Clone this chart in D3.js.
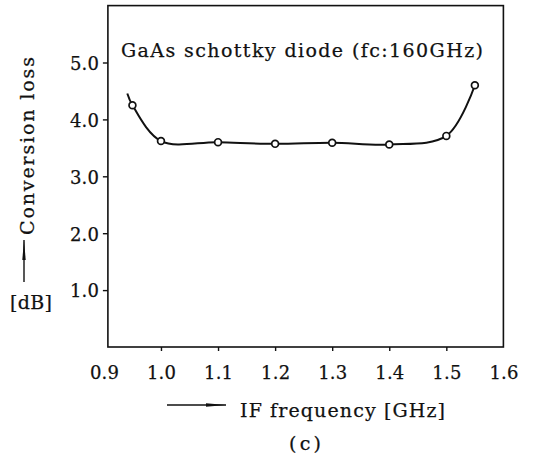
<!DOCTYPE html>
<html>
<head>
<meta charset="utf-8">
<script src="https://cdn.jsdelivr.net/npm/d3@7"></script>
<style>
  html, body { margin: 0; padding: 0; background: #fff; }
  svg { display: block; }
  text { font-family: "DejaVu Serif", "Liberation Serif", serif; fill: #111; stroke: #111; stroke-width: 0.25px; }
</style>
</head>
<body>
<svg id="chart" width="533" height="463"></svg>
<script>
// ---- data ----
const freq = [0.95, 1.0, 1.1, 1.2, 1.3, 1.4, 1.5, 1.55];
const loss = [4.25, 3.62, 3.60, 3.57, 3.59, 3.56, 3.71, 4.60];
const curveStart = [0.941, 4.455];
const xTicks = [0.9, 1.0, 1.1, 1.2, 1.3, 1.4, 1.5, 1.6];
const xTickLabels = ["0.9", "1.0", "1.1", "1.2", "1.3", "1.4", "1.5", "1.6"];
const yTicks = [1, 2, 3, 4, 5];
const yTickLabels = ["1.0", "2.0", "3.0", "4.0", "5.0"];
const xFrame = [0.907, 1.6];
const yFrame = [0, 6];
const titleText = "GaAs schottky diode (fc:160GHz)";
const xLabel = "IF frequency [GHz]";
const yLabel = "Conversion loss";
const yUnit = "[dB]";
const caption = "(c)";

// ---- scales ----
const x = d3.scaleLinear().domain([0.9, 1.6]).range([103.9, 503.4]);
const y = d3.scaleLinear().domain([0, 6]).range([347, 5.6]);

const svg = d3.select("#chart");
const ink = "#111";
const serif = "'DejaVu Serif', 'Liberation Serif', serif";

// frame
svg.append("rect")
  .attr("x", x(xFrame[0])).attr("y", y(yFrame[1]))
  .attr("width", x(xFrame[1]) - x(xFrame[0]))
  .attr("height", y(yFrame[0]) - y(yFrame[1]))
  .attr("fill", "none").attr("stroke", ink).attr("stroke-width", 1.6);

// y axis ticks + labels
const yAxis = d3.axisLeft(y).tickValues(yTicks)
  .tickFormat((d, i) => yTickLabels[i]).tickSize(5).tickPadding(4);
const gy = svg.append("g").attr("transform", `translate(${x(xFrame[0])},0)`).call(yAxis);
gy.select(".domain").remove();
gy.selectAll(".tick line").attr("stroke", ink).attr("stroke-width", 1.4);
gy.selectAll(".tick text")
  .attr("font-size", 18).attr("textLength", 29).attr("lengthAdjust", "spacing")
  .attr("dy", "0.38em").attr("x", -9)
  .style("font-family", serif);

// x axis ticks + labels
const xAxis = d3.axisBottom(x).tickValues(xTicks)
  .tickFormat((d, i) => xTickLabels[i]).tickSize(4).tickPadding(18);
const gx = svg.append("g").attr("transform", `translate(0,${y(0)})`).call(xAxis);
gx.select(".domain").remove();
gx.selectAll(".tick line").attr("stroke", ink).attr("stroke-width", 1.4)
  .attr("y1", 0).attr("y2", 4);
gx.selectAll(".tick text")
  .attr("font-size", 18).attr("textLength", 29).attr("lengthAdjust", "spacing")
  .attr("y", 19).attr("dy", "0.71em")
  .style("font-family", serif);
gx.selectAll(".tick").filter(d => d === 0.9 || d === 1.6).select("line").remove();

// curve
const pts = [curveStart].concat(freq.map((f, i) => [f, loss[i]]));
const line = d3.line().x(d => x(d[0])).y(d => y(d[1])).curve(d3.curveCatmullRom.alpha(0.5));
svg.append("path").attr("d", line(pts))
  .attr("fill", "none").attr("stroke", ink).attr("stroke-width", 2);

// circles
svg.append("g").selectAll("circle").data(freq).join("circle")
  .attr("cx", d => x(d)).attr("cy", (d, i) => y(loss[i]))
  .attr("r", 3.4).attr("fill", "#fff").attr("stroke", ink).attr("stroke-width", 1.7);

// title
svg.append("text").attr("x", 121).attr("y", 57)
  .attr("font-size", 19).attr("textLength", 362).attr("lengthAdjust", "spacing")
  .text(titleText);

// x label with arrow
svg.append("line").attr("x1", 167).attr("x2", 226).attr("y1", 405).attr("y2", 405)
  .attr("stroke", ink).attr("stroke-width", 1.4);
svg.append("path").attr("d", "M206,403.3 L226,405 L206,406.7 Z").attr("fill", ink);
svg.append("text").attr("x", 240).attr("y", 417)
  .attr("font-size", 19).attr("textLength", 205).attr("lengthAdjust", "spacing")
  .text(xLabel);

// y label with arrow
svg.append("text").attr("transform", "translate(34,235) rotate(-90)")
  .attr("font-size", 19).attr("textLength", 178).attr("lengthAdjust", "spacing")
  .text(yLabel);
svg.append("line").attr("x1", 24).attr("x2", 24).attr("y1", 282).attr("y2", 240)
  .attr("stroke", ink).attr("stroke-width", 1.4);
svg.append("path").attr("d", "M22.3,260 L24,240 L25.7,260 Z").attr("fill", ink);
svg.append("text").attr("x", 10).attr("y", 309)
  .attr("font-size", 19).attr("textLength", 42).attr("lengthAdjust", "spacing")
  .text(yUnit);

// caption
svg.append("text").attr("x", 289).attr("y", 450)
  .attr("font-size", 19).attr("textLength", 32).attr("lengthAdjust", "spacing")
  .text(caption);
</script>
</body>
</html>
